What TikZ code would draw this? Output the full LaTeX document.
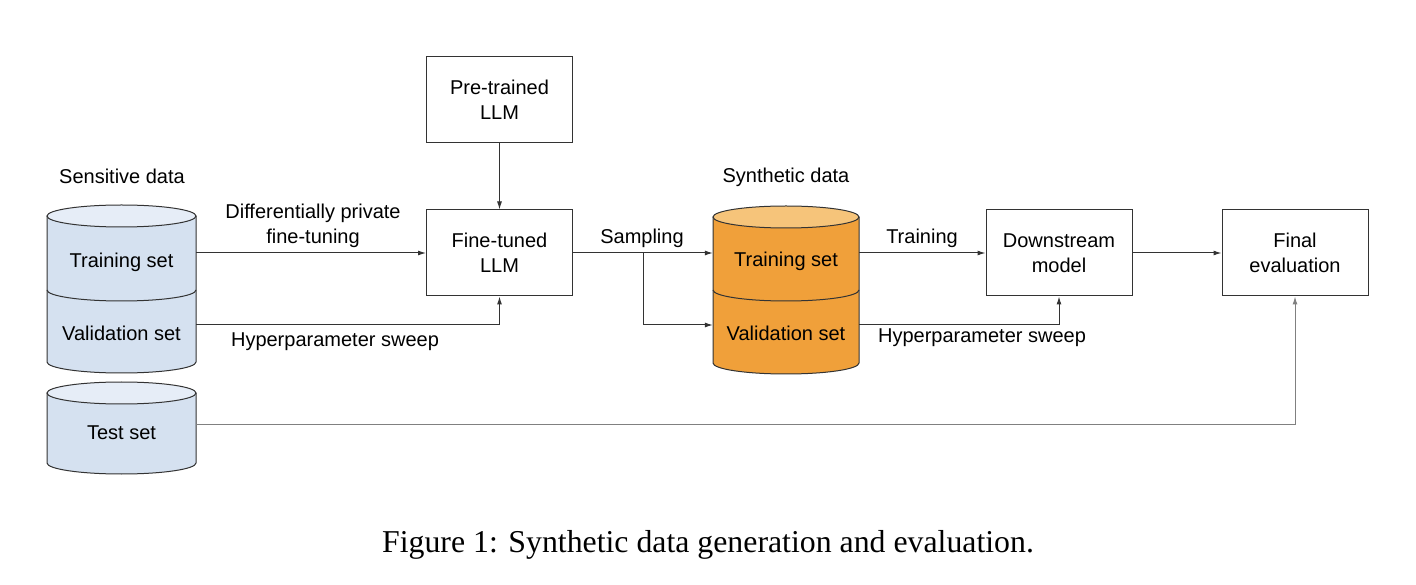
\documentclass[tikz,border=0pt]{standalone}
\usepackage{fontspec}
\setmainfont{Liberation Sans}
\newfontfamily\capfont{Liberation Serif}
\usetikzlibrary{arrows.meta,positioning}

\definecolor{senslight}{RGB}{230,237,247}
\definecolor{sensbody}{RGB}{213,225,240}
\definecolor{synlight}{RGB}{246,196,122}
\definecolor{synbody}{RGB}{240,160,58}
\definecolor{edgegray}{RGB}{51,51,51}

\begin{document}
\begin{tikzpicture}
[x=1pt,y=1pt,
every node/.style={font=\fontsize{20}{25}\selectfont},
box/.style={draw=edgegray,line width=1pt,minimum width=146pt,minimum height=86pt,align=center,inner sep=0pt},
part/.style={minimum width=149pt,minimum height=20pt,inner sep=0pt},
cyl/.style={draw=edgegray,line width=1pt},
link/.style={draw=edgegray,line width=1pt,-{Latex[length=8pt,width=5pt]}},
graylink/.style={link,draw=gray}]
\useasboundingbox (0,0) rectangle (1416,584);

% sensitive data: training + validation
\fill[sensbody] (47,368) -- (47,222) arc[start angle=180,end angle=360,x radius=74.5,y radius=11] -- (196,368) -- cycle;
\fill[senslight] (121.5,368) ellipse[x radius=74.5,y radius=11];
\draw[cyl] (121.5,368) ellipse[x radius=74.5,y radius=11];
\draw[cyl] (47,368) -- (47,222) arc[start angle=180,end angle=360,x radius=74.5,y radius=11] -- (196,368);
\draw[cyl] (47,294) arc[start angle=180,end angle=360,x radius=74.5,y radius=11];
% sensitive data: test
\fill[sensbody] (47,191) -- (47,121) arc[start angle=180,end angle=360,x radius=74.5,y radius=11] -- (196,191) -- cycle;
\fill[senslight] (121.5,191) ellipse[x radius=74.5,y radius=11];
\draw[cyl] (121.5,191) ellipse[x radius=74.5,y radius=11];
\draw[cyl] (47,191) -- (47,121) arc[start angle=180,end angle=360,x radius=74.5,y radius=11] -- (196,191);
% synthetic data
\fill[synbody] (713,367) -- (713,221) arc[start angle=180,end angle=360,x radius=73,y radius=11] -- (859,367) -- cycle;
\fill[synlight] (786,367) ellipse[x radius=73,y radius=11];
\draw[cyl] (786,367) ellipse[x radius=73,y radius=11];
\draw[cyl] (713,367) -- (713,221) arc[start angle=180,end angle=360,x radius=73,y radius=11] -- (859,367);
\draw[cyl] (713,294) arc[start angle=180,end angle=360,x radius=73,y radius=11];

\node (senslbl) at (122,408) {Sensitive data};
\node[part] (trainS) at (121.5,322) {Training set};
\node[part] (valS) at (121.5,251) {Validation set};
\node[part] (testS) at (121.5,151) {Test set};

\node (synlbl) at (786,407) {Synthetic data};
\node[part,minimum width=146pt] (trainD) at (786,323) {Training set};
\node[part,minimum width=146pt] (valD) at (786,251) {Validation set};

\node[box] (pre) at (499.5,484) {Pre-trained\\LLM};
\node[box] (fine) at (499.5,331) {Fine-tuned\\LLM};
\node[box] (down) at (1059,331) {Downstream\\model};
\node[box] (final) at (1295,331) {Final\\evaluation};

\node[align=center] (dplbl) at (313,358) {Differentially private\\fine-tuning};
\node (hp1lbl) at (335,242) {Hyperparameter sweep};
\node (samplbl) at (642,346) {Sampling};
\node (trlbl) at (922,346) {Training};
\node (hp2lbl) at (982,246) {Hyperparameter sweep};

\draw[link] (pre) -- (fine);
\draw[link] (trainS.east |- fine) -- (fine);
\draw[link] ([yshift=8]valS.east) -| (fine.south);
\draw[link] (fine) -- (trainD.west |- fine);
\coordinate (split) at (643,331);
\draw[link] (split) |- ([yshift=8]valD.west);
\draw[link] (trainD.east |- down) -- (down);
\draw[link] ([yshift=8]valD.east) -| (down.south);
\draw[link] (down) -- (final);
\draw[graylink] ([yshift=8]testS.east) -| (final.south);

\node[font=\capfont\fontsize{31.8}{36}\selectfont] (caption) at (708,39) {Figure 1: Synthetic data generation and evaluation.};
\end{tikzpicture}
\end{document}
